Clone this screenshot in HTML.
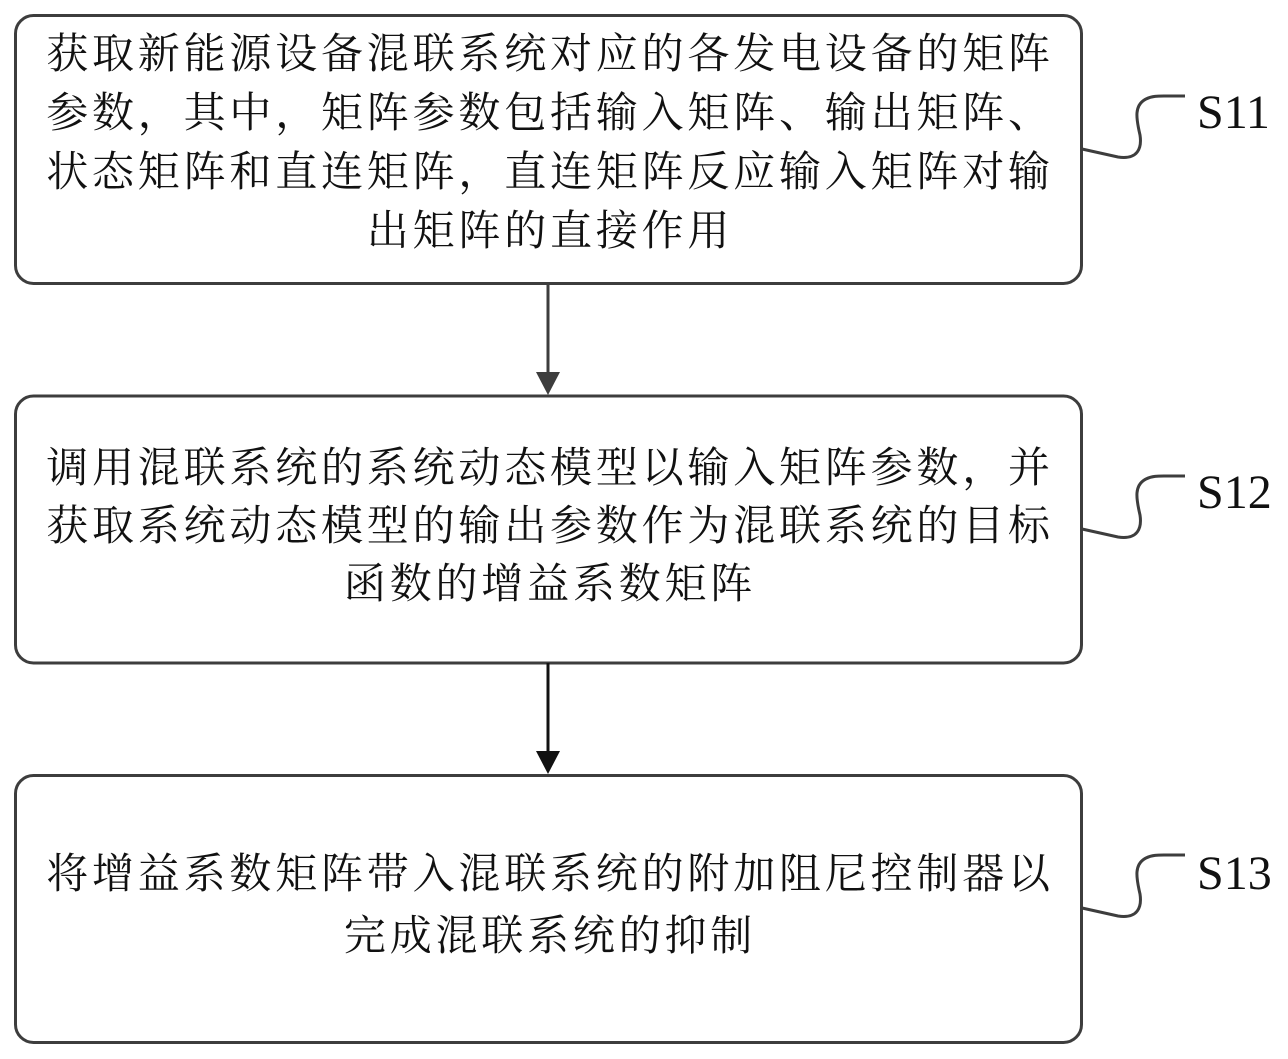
<!DOCTYPE html>
<html><head><meta charset="utf-8"><style>
body{margin:0;background:#fff;}
svg{display:block}
.t{font-family:"Noto Serif CJK SC","Liberation Serif",serif;font-size:42px;fill:#111;}
.s{font-family:"Liberation Serif",serif;font-size:48px;fill:#111;}
</style></head><body>
<svg width="1288" height="1059" xmlns="http://www.w3.org/2000/svg">
<g fill="none" stroke="#3d3d3d" stroke-width="3">
<rect x="15.5" y="15.5" width="1066" height="268" rx="18"/>
<rect x="15.5" y="396" width="1066" height="267" rx="18"/>
<rect x="15.5" y="775.5" width="1066" height="267" rx="18"/>
<line x1="548" y1="284" x2="548" y2="376"/>
<line x1="548" y1="663" x2="548" y2="754" stroke="#111"/>
<path d="M1082 149 L1118 157 C1138 160 1142 148 1140 135 C1136 118 1134 105 1146 99 C1152 96 1158 96 1164 96 L1185 96"/>
<path d="M1082 529 L1118 537 C1138 540 1142 528 1140 515 C1136 498 1134 485 1146 479 C1152 476 1158 476 1164 476 L1185 476"/>
<path d="M1082 908 L1118 916 C1138 919 1142 907 1140 894 C1136 877 1134 864 1146 858 C1152 855 1158 855 1164 855 L1185 855"/>
</g>
<polygon points="536,372 560,372 548,395" fill="#3d3d3d"/>
<polygon points="536,751 560,751 548,774" fill="#111"/>
<g class="t" text-anchor="middle" letter-spacing="3.8">
<text x="550" y="68">获取新能源设备混联系统对应的各发电设备的矩阵</text>
<text x="550" y="127">参数，其中，矩阵参数包括输入矩阵、输出矩阵、</text>
<text x="550" y="186">状态矩阵和直连矩阵，直连矩阵反应输入矩阵对输</text>
<text x="550" y="245">出矩阵的直接作用</text>
<text x="550" y="482">调用混联系统的系统动态模型以输入矩阵参数，并</text>
<text x="550" y="540">获取系统动态模型的输出参数作为混联系统的目标</text>
<text x="550" y="598">函数的增益系数矩阵</text>
<text x="550" y="888">将增益系数矩阵带入混联系统的附加阻尼控制器以</text>
<text x="550" y="950">完成混联系统的抑制</text>
</g>
<text class="s" x="1197" y="128">S11</text>
<text class="s" x="1197" y="508">S12</text>
<text class="s" x="1197" y="889">S13</text>
</svg>
</body></html>
